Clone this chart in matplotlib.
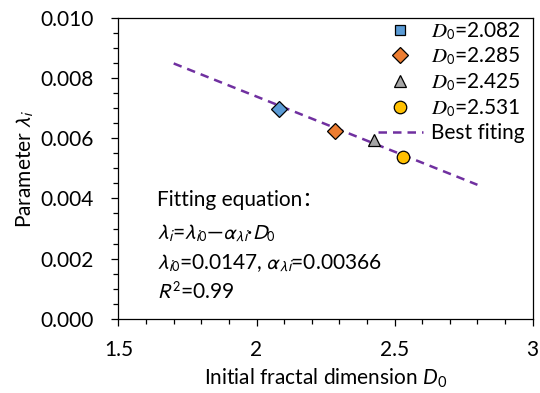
import numpy as np
import matplotlib
matplotlib.use("Agg")
import matplotlib.pyplot as plt
from matplotlib.ticker import MultipleLocator
from matplotlib.lines import Line2D

plt.rcParams['font.family'] = ['Lato', 'DejaVu Sans']
plt.rcParams['mathtext.fontset'] = 'custom'
plt.rcParams['mathtext.rm'] = 'Lato'
plt.rcParams['mathtext.it'] = 'Lato:italic'
plt.rcParams['mathtext.sf'] = 'Lato'
plt.rcParams['mathtext.fallback'] = 'stixsans'

# Measured samples
d0_values = [2.082, 2.285, 2.425, 2.531]
lambda_values = [0.00697, 0.00625, 0.00595, 0.00537]
plot_markers = ['D', 'D', '^', 'o']
legend_markers = ['s', 'D', '^', 'o']
marker_sizes = [8, 8, 9, 9]
colors = ['#5B9BD5', '#ED7D31', '#A5A5A5', '#FFC000']
labels = ['$D_{\\mathsf{0}}$=2.082', '$D_{\\mathsf{0}}$=2.285',
          '$D_{\\mathsf{0}}$=2.425', '$D_{\\mathsf{0}}$=2.531']

# Linear fit: lambda_i = lambda_i0 - alpha * D0
lambda_i0 = 0.0147
alpha = 0.00366
fit_range = [1.7, 2.8]
fit_color = '#7030A0'

fs = 15

fig = plt.figure(figsize=(5.4, 3.93), dpi=100)
ax = fig.add_axes([0.2194, 0.1883, 0.767, 0.767])

xf = np.linspace(fit_range[0], fit_range[1], 50)
ax.plot(xf, lambda_i0 - alpha * xf, color=fit_color, lw=1.8,
        linestyle=(0, (3.4, 2.4)), zorder=2)

for x, y, m, s, c in zip(d0_values, lambda_values, plot_markers,
                         marker_sizes, colors):
    ax.plot([x], [y], linestyle='none', marker=m, color=c, ms=s,
            markeredgecolor='black', markeredgewidth=0.9, zorder=3)

handles = [Line2D([], [], linestyle='none', marker=m, color=c,
                  ms=(7 if m == 's' else s), markeredgecolor='black',
                  markeredgewidth=0.9, label=lab)
           for m, s, c, lab in zip(legend_markers, marker_sizes, colors, labels)]
handles.append(Line2D([], [], color=fit_color, lw=1.8,
                      linestyle=(0, (3.4, 2.4)), label='Best fiting'))
leg_prop = {'size': fs, 'math_fontfamily': 'stix'}
ax.legend(handles=handles, loc='upper right', frameon=False,
          prop=leg_prop, handlelength=2.2, handletextpad=0.35,
          labelspacing=0.2, borderaxespad=0.0,
          bbox_to_anchor=(1.0, 1.02))

ax.set_xlim(1.5, 3)
ax.set_ylim(0, 0.010)
ax.xaxis.set_minor_locator(MultipleLocator(0.1))
ax.yaxis.set_minor_locator(MultipleLocator(0.0005))
ax.set_xticks([1.5, 2, 2.5, 3])
ax.set_xticklabels(['1.5', '2', '2.5', '3'])
yt = [0, 0.002, 0.004, 0.006, 0.008, 0.010]
ax.set_yticks(yt)
ax.set_yticklabels(['%.3f' % v for v in yt])
ax.tick_params(which='both', direction='out', labelsize=fs, width=0.9)
ax.tick_params(which='major', length=5)
ax.tick_params(which='minor', length=3.4)
ax.tick_params(axis='x', which='major', pad=10)
ax.tick_params(axis='y', which='major', pad=13)
for s in ax.spines.values():
    s.set_linewidth(0.9)

ax.set_xlabel('Initial fractal dimension $D_\\mathrm{0}$', fontsize=fs,
              labelpad=5)
ax.set_ylabel('Parameter $\\lambda_i$', fontsize=fs, labelpad=3,
              math_fontfamily='stixsans')

eq_lines = ['Fitting equation：',
            '$\\lambda_i$=$\\lambda_{i\\mathrm{0}}$—$\\alpha_{\\lambda i}$·$D_\\mathrm{0}$',
            '$\\lambda_{i\\mathrm{0}}$=0.0147, $\\alpha_{\\lambda i}$=0.00366',
            '$R^\\mathrm{2}$=0.99']
ypos = [0.395, 0.285, 0.186, 0.090]
for t, yv in zip(eq_lines, ypos):
    ax.text(0.093, yv, t, fontsize=fs, va='center', ha='left',
            transform=ax.transAxes, math_fontfamily='stixsans',
            family=['Lato', 'Noto Sans CJK SC', 'DejaVu Sans'])

fig.savefig('out.png', dpi=100)
